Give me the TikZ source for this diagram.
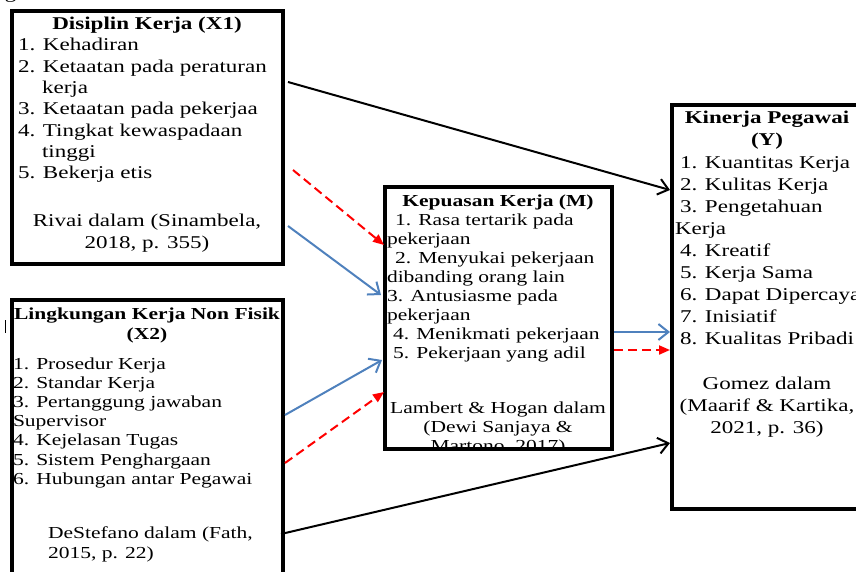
\documentclass[tikz,border=0pt]{standalone}
\usepackage{fontspec}
\setmainfont{Liberation Serif}[FakeStretch=1.28]
\usetikzlibrary{arrows.meta,calc}
\definecolor{bluec}{RGB}{79,129,189}
\definecolor{redc}{RGB}{255,0,0}
\begin{document}
\begin{tikzpicture}[x=1pt,y=-1pt,
  box/.style={draw, line width=3.5pt, inner sep=0pt, outer sep=0pt, anchor=north west},
  big/.style={font=\fontsize{18}{21}\selectfont, inner sep=0pt, outer sep=0pt},
  bigb/.style={big, font=\fontsize{18}{21}\selectfont\bfseries},
  small/.style={font=\fontsize{16.8}{19}\selectfont, inner sep=0pt, outer sep=0pt},
  smallb/.style={small, font=\fontsize{16.8}{19}\selectfont\bfseries},
  blk/.style={line width=2pt, -{Straight Barb[length=10pt,width=16pt]}},
  blu/.style={blk, bluec},
  redarrow/.style={line width=2pt, redc, dash pattern=on 9pt off 5pt, -{Triangle[length=11pt,width=9pt]}}
]
\useasboundingbox (0,0) rectangle (856,572);

% stray marks
\node[big, anchor=base west] (gmark) at (5,-1) {g};
\draw[line width=1pt] (5,320) coordinate (barA) -- (5,333) coordinate (barB);

% ---- X1 texts
\node[bigb, anchor=base] (x1t) at (147,30) {Disiplin Kerja (X1)};
\foreach \t/\xx [count=\i] in {1. Kehadiran/18, 2. Ketaatan pada peraturan/18, kerja/42,
   3. Ketaatan pada pekerjaa/18, 4. Tingkat kewaspadaan/18, tinggi/42, 5. Bekerja etis/18}
  \node[big, anchor=base west] (x1l\i) at (\xx,{51+21.3*(\i-1)}) {\t};
\node[big, anchor=base] (x1c1) at (147,226) {Rivai dalam (Sinambela,};
\node[big, anchor=base] (x1c2) at (147,248) {2018, p. 355)};

% ---- X2 texts
\node[smallb, anchor=base] (x2t1) at (147,319) {Lingkungan Kerja Non Fisik};
\node[smallb, anchor=base] (x2t2) at (147,339) {(X2)};
\foreach \t [count=\i] in {1. Prosedur Kerja, 2. Standar Kerja, 3. Pertanggung jawaban, Supervisor,
   4. Kejelasan Tugas, 5. Sistem Penghargaan, 6. Hubungan antar Pegawai}
  \node[small, anchor=base west] (x2l\i) at (13,{369+19.2*(\i-1)}) {\t};
\node[small, anchor=base west] (x2c1) at (48,538) {DeStefano dalam (Fath,};
\node[small, anchor=base west] (x2c2) at (48,558) {2015, p. 22)};

% ---- M texts
\node[smallb, anchor=base] (mt) at (498,206) {Kepuasan Kerja (M)};
\foreach \t/\xx [count=\i] in {1. Rasa tertarik pada/395, pekerjaan/387, 2. Menyukai pekerjaan/395,
   dibanding orang lain/387, 3. Antusiasme pada/387, pekerjaan/387, 4. Menikmati pekerjaan/393,
   5. Pekerjaan yang adil/393}
  \node[small, anchor=base west] (ml\i) at (\xx,{225+19*(\i-1)}) {\t};
\begin{scope}
  \clip (385,187) rectangle (612,448);
  \node[small, anchor=base] (mc1) at (498,413) {Lambert \& Hogan dalam};
  \node[small, anchor=base] (mc2) at (498,432) {(Dewi Sanjaya \&};
  \node[small, anchor=base] (mc3) at (498,451) {Martono, 2017)};
\end{scope}

% ---- Y texts
\node[bigb, anchor=base] (yt1) at (767,124) {Kinerja Pegawai};
\node[bigb, anchor=base] (yt2) at (767,146) {(Y)};
\foreach \t/\xx [count=\i] in {1. Kuantitas Kerja/680, 2. Kulitas Kerja/680, 3. Pengetahuan/680,
   Kerja/675, 4. Kreatif/680, 5. Kerja Sama/680, 6. Dapat Dipercaya/680, 7. Inisiatif/680,
   8. Kualitas Pribadi/680}
  \node[big, anchor=base west] (yl\i) at (\xx,{168+22*(\i-1)}) {\t};
\node[big, anchor=base] (yc1) at (767,389) {Gomez dalam};
\node[big, anchor=base] (yc2) at (767,411) {(Maarif \& Kartika,};
\node[big, anchor=base] (yc3) at (767,433) {2021, p. 36)};

% ---- boxes
\node[box, minimum width=271pt, minimum height=253pt] (x1) at (12,11) {};
\node[box, minimum width=271pt, minimum height=320pt] (x2) at (12,300) {};
\node[box, minimum width=227pt, minimum height=262pt] (m) at (385,187) {};
\node[box, minimum width=190pt, minimum height=404pt] (y) at (672,105) {};

% ---- connectors
\draw[blk] ($(x1.north east)+(5,71)$) -- ($(y.north west)+(-2,85)$);
\draw[redarrow] ($(x1.north east)+(10,159)$) -- ($(m.north west)+(-1,58)$);
\draw[blu] ($(x1.north east)+(5,215)$) -- ($(m.north west)+(-4,108)$);
\draw[blu] ($(x2.north east)+(2,115)$) -- ($(m.north west)+(-3,173)$);
\draw[redarrow] ($(x2.north east)+(2,163)$) -- ($(m.north west)+(-1,205)$);
\draw[blu] ($(m.north east)+(2,145)$) -- ($(y.north west)+(-2,227)$);
\draw[redarrow] ($(m.north east)+(2,163)$) -- ($(y.north west)+(-2,245)$);
\draw[blk] ($(x2.north east)+(-2,234)$) -- ($(y.north west)+(-2,338)$);
\end{tikzpicture}
\end{document}
